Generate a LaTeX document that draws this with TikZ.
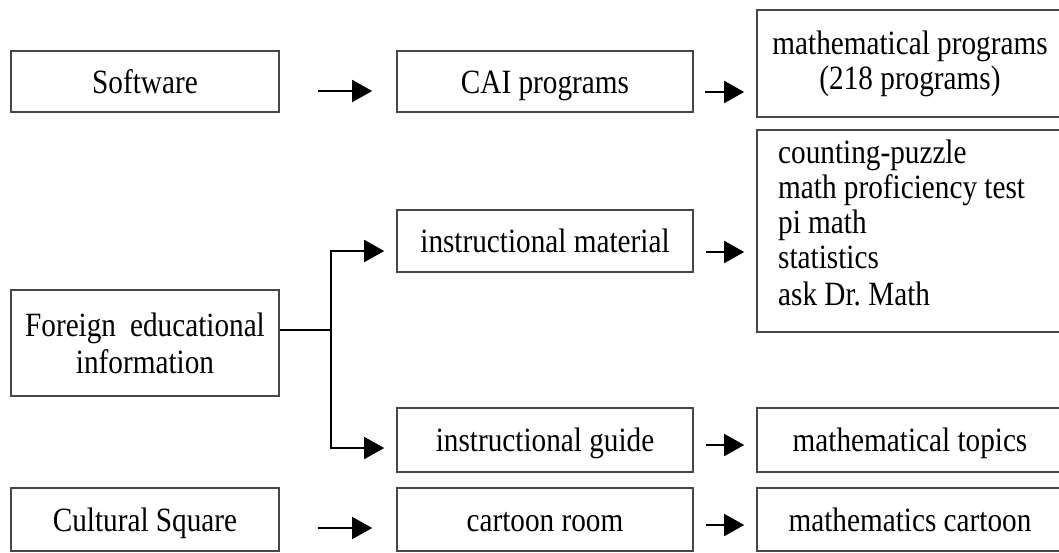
\documentclass[tikz,border=0pt]{standalone}
\usepackage{fontspec}
\setmainfont{Liberation Serif}[FakeStretch=0.86]
\usetikzlibrary{arrows.meta,calc}
\frenchspacing
\begin{document}
\begin{tikzpicture}[x=1pt,y=-1pt,
  every node/.style={font=\fontsize{34}{35}\selectfont, inner sep=0pt},
  boxbase/.style={draw=black!72, line width=1.6pt, rectangle},
  onebox/.style={boxbase, text height=23pt, text depth=0pt},
  multibox/.style={boxbase, align=center},
  conn/.style={line width=1.6pt, black},
  arr/.style={conn, -{Triangle[length=20pt,width=22pt]}}
]
\useasboundingbox (0,0) rectangle (1059,552);
\clip (0,0) rectangle (1059,552);
% left column
\node[onebox, minimum width=268pt, minimum height=61pt] (sw) at (145,81.5) {Software};
\node[multibox, minimum width=268pt, minimum height=106pt] (fe) at (145,343) {Foreign\hspace{14pt}educational\\[2pt]information};
\node[onebox, minimum width=268pt, minimum height=63pt] (cs) at (145,519.5) {Cultural Square};
% middle column
\node[onebox, minimum width=296pt, minimum height=61pt] (cai) at (545,81.5) {CAI programs};
\node[onebox, minimum width=296pt, minimum height=62pt] (im) at (545,241) {instructional material};
\node[onebox, minimum width=296pt, minimum height=64pt] (ig) at (545,440) {instructional guide};
\node[onebox, minimum width=296pt, minimum height=63pt] (cr) at (545,519.5) {cartoon room};
% right column
\node[multibox, minimum width=306pt, minimum height=107pt] (mp) at (910,63.5) {\raisebox{-3pt}{mathematical programs}\\\raisebox{-3pt}{(218 programs)}};
\node[boxbase, minimum width=306pt, minimum height=202pt] (lst) at (910,231) {};
\node[align=left, anchor=north west] (lsttxt) at (778,140) {counting-puzzle\\math proficiency test\\pi math\\statistics\\[2pt]ask Dr.\ Math};
\node[onebox, minimum width=306pt, minimum height=64pt] (mt) at (910,440) {mathematical topics};
\node[onebox, minimum width=306pt, minimum height=63pt] (mc) at (910,519.5) {mathematics cartoon};
% straight connectors
\coordinate (a1) at ([yshift=-9.5pt]sw.east);
\draw[arr, shorten <=38pt, shorten >=24pt] (a1) -- (a1 -| cai.west);
\coordinate (a2) at ([yshift=-10.5pt]cai.east);
\draw[arr, shorten <=11pt, shorten >=12pt] (a2) -- (a2 -| mp.west);
\coordinate (a3) at ([yshift=-11pt]im.east);
\draw[arr, shorten <=12pt, shorten >=12pt] (a3) -- (a3 -| lst.west);
\coordinate (a4) at ([yshift=-5pt]ig.east);
\draw[arr, shorten <=12pt, shorten >=12pt] (a4) -- (a4 -| mt.west);
\coordinate (a5) at ([yshift=-8.5pt]cs.east);
\draw[arr, shorten <=38pt, shorten >=24pt] (a5) -- (a5 -| cr.west);
\coordinate (a6) at ([yshift=-5.5pt]cr.east);
\draw[arr, shorten <=12pt, shorten >=12pt] (a6) -- (a6 -| mc.west);
% branching connector
\coordinate (j) at (331,330);
\coordinate (imin) at ([yshift=-10pt]im.west);
\coordinate (igin) at ([yshift=-8pt]ig.west);
\draw[conn] (fe.east |- j) -- (j);
\draw[arr, shorten >=12pt] (j) |- (imin);
\draw[arr, shorten >=12pt] (j) |- (igin);
\end{tikzpicture}
\end{document}
